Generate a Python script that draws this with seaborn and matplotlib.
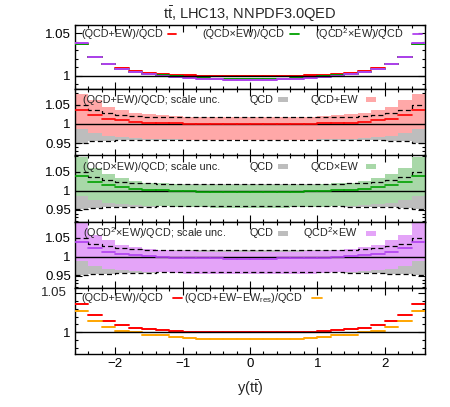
import numpy as np
import pandas as pd
import matplotlib
matplotlib.use('Agg')
import matplotlib.pyplot as plt
import matplotlib.transforms as mtransforms
import seaborn as sns
from matplotlib.patches import Rectangle
from matplotlib.ticker import MultipleLocator

# ---------------- data ----------------
edges = [-2.6, -2.4, -2.2, -2.0, -1.8, -1.6, -1.4, -1.2, -1.0, -0.8, -0.6, -0.4, -0.2, 0.0,
         0.2, 0.4, 0.6, 0.8, 1.0, 1.2, 1.4, 1.6, 1.8, 2.0, 2.2, 2.4, 2.6]

ratio_add = [1.037, 1.0222, 1.0139, 1.0094, 1.006, 1.0036, 1.0023, 1.0013, 1.0006, 1.0003, 1.0001, 1.0, 1.0,
             1.0, 1.0, 1.0001, 1.0003, 1.0006, 1.0013, 1.0023, 1.0036, 1.006, 1.0094, 1.0139, 1.0222, 1.037]
ratio_mult = [1.038, 1.0225, 1.0136, 1.0083, 1.0047, 1.0023, 1.0006, 0.9992, 0.9981, 0.9973, 0.9967, 0.9963, 0.9961,
              0.9961, 0.9963, 0.9967, 0.9973, 0.9981, 0.9992, 1.0006, 1.0023, 1.0047, 1.0083, 1.0136, 1.0225, 1.038]
ratio_qcd2 = [1.0388, 1.0226, 1.0134, 1.008, 1.0043, 1.0018, 0.9999, 0.9984, 0.9972, 0.9964, 0.9958, 0.9954, 0.9952,
              0.9952, 0.9954, 0.9958, 0.9964, 0.9972, 0.9984, 0.9999, 1.0018, 1.0043, 1.008, 1.0134, 1.0226, 1.0388]
ratio_nores = [1.0275, 1.014, 1.0072, 1.0015, 0.9998, 0.997, 0.9965, 0.9938, 0.9925, 0.9918, 0.9914, 0.9912, 0.9911,
               0.9911, 0.9912, 0.9914, 0.9918, 0.9925, 0.9938, 0.9965, 0.997, 0.9998, 1.0015, 1.0072, 1.014, 1.0275]

qcd_up = [1.049, 1.035, 1.029, 1.023, 1.021, 1.019, 1.018, 1.0175, 1.0175, 1.0175, 1.0175, 1.0175, 1.0175,
          1.0175, 1.0175, 1.0175, 1.0175, 1.0175, 1.0175, 1.018, 1.019, 1.021, 1.023, 1.029, 1.035, 1.049]
qcd_dn = [0.951, 0.955, 0.956, 0.957, 0.958, 0.958, 0.959, 0.959, 0.959, 0.959, 0.959, 0.959, 0.959,
          0.959, 0.959, 0.959, 0.959, 0.959, 0.959, 0.959, 0.958, 0.958, 0.957, 0.956, 0.955, 0.951]

add_up = [1.078, 1.062, 1.044, 1.036, 1.029, 1.025, 1.022, 1.020, 1.019, 1.018, 1.0178, 1.0176, 1.0175,
          1.0175, 1.0176, 1.0178, 1.018, 1.019, 1.020, 1.022, 1.025, 1.029, 1.036, 1.044, 1.062, 1.078]
add_dn = [0.986, 0.976, 0.969, 0.966, 0.964, 0.962, 0.961, 0.960, 0.9595, 0.959, 0.959, 0.959, 0.959,
          0.959, 0.959, 0.959, 0.959, 0.9595, 0.960, 0.961, 0.962, 0.964, 0.966, 0.969, 0.976, 0.986]
mult_up = [1.088, 1.059, 1.044, 1.032, 1.026, 1.021, 1.019, 1.017, 1.016, 1.015, 1.0142, 1.0138, 1.0136,
           1.0136, 1.0138, 1.0142, 1.015, 1.016, 1.017, 1.019, 1.021, 1.026, 1.032, 1.044, 1.059, 1.088]
mult_dn = [0.987, 0.976, 0.969, 0.965, 0.962, 0.960, 0.9595, 0.958, 0.957, 0.956, 0.9555, 0.955, 0.955,
           0.955, 0.955, 0.9555, 0.956, 0.957, 0.958, 0.9595, 0.960, 0.962, 0.965, 0.969, 0.976, 0.987]
qcd2_up = [1.089, 1.059, 1.044, 1.031, 1.0255, 1.020, 1.0175, 1.016, 1.0145, 1.014, 1.0135, 1.013, 1.013,
           1.013, 1.013, 1.0135, 1.014, 1.0145, 1.016, 1.0175, 1.020, 1.0255, 1.031, 1.044, 1.059, 1.089]
qcd2_dn = [0.988, 0.977, 0.969, 0.9655, 0.962, 0.960, 0.959, 0.957, 0.956, 0.955, 0.9545, 0.954, 0.954,
           0.954, 0.954, 0.9545, 0.955, 0.956, 0.957, 0.959, 0.960, 0.962, 0.9655, 0.969, 0.977, 0.988]

# ---------------- style ----------------
sns.set_theme(style='ticks')
plt.rcParams['font.family'] = ['Liberation Sans', 'DejaVu Sans']
plt.rcParams['mathtext.fontset'] = 'custom'
plt.rcParams['mathtext.rm'] = 'Liberation Sans'
plt.rcParams['mathtext.it'] = 'Liberation Sans:italic'
plt.rcParams['mathtext.default'] = 'regular'

RED = '#ff0000'
GREEN = '#00a000'
PURPLE = '#b040f0'
ORANGE = '#ffa500'
GRAY = '#bdbdbd'
PINK = '#ffa8a8'
LGREEN = '#a8d8a8'
LPURPLE = '#e4a4f8'

W, H = 450, 407
fig = plt.figure(figsize=(W / 100, H / 100), dpi=100)

def add_axes(top, bottom):
    return fig.add_axes([75 / W, 1 - bottom / H, 350 / W, (bottom - top) / H])

bounds = [(25, 88.5), (88.5, 155.5), (155.5, 222), (222, 288), (288, 354)]
axes = [add_axes(t, b) for t, b in bounds]

n = len(edges) - 1

def seg_frame(vals):
    xs, ys, bs = [], [], []
    for i in range(n):
        xs += [edges[i], edges[i + 1]]
        ys += [vals[i], vals[i]]
        bs += [i, i]
    return pd.DataFrame({'x': xs, 'y': ys, 'bin': bs})

def segments(ax, vals, color, lw=1.4, z=5):
    sns.lineplot(data=seg_frame(vals), x='x', y='y', units='bin', estimator=None,
                 color=color, lw=lw, ax=ax, legend=False, sort=False, zorder=z)

def step_line(ax, vals, color='black', lw=0.9, ls=(0, (4, 2.5)), z=4):
    df = pd.DataFrame({'x': edges, 'y': list(vals) + [vals[-1]]})
    sns.lineplot(data=df, x='x', y='y', estimator=None, color=color, lw=lw,
                 ax=ax, legend=False, drawstyle='steps-post', linestyle=ls, zorder=z)

def band(ax, up, dn, color, z):
    ax.fill_between(edges, list(up) + [up[-1]], list(dn) + [dn[-1]], step='post',
                    color=color, lw=0, zorder=z)

TICKFS = 9.5

def style_axis(ax, ylim, majors, labels, minor, showx=False):
    ax.set_xlabel('')
    ax.set_ylabel('')
    ax.axhline(1.0, color='black', lw=1.0, zorder=6)
    ax.set_xlim(-2.6, 2.6)
    ax.set_xticks([-2, -1, 0, 1, 2])
    if showx:
        ax.set_xticklabels(['\u22122', '\u22121', '0', '1', '2'])
    else:
        ax.set_xticklabels([])
    ax.xaxis.set_minor_locator(MultipleLocator(0.2))
    ax.set_yticks(majors)
    ax.set_yticklabels(labels)
    ax.yaxis.set_minor_locator(MultipleLocator(minor))
    ax.set_ylim(*ylim)
    ax.tick_params(which='both', direction='in', top=True, right=True, width=0.8, colors='black')
    ax.tick_params(which='major', length=5, labelsize=TICKFS, pad=3)
    ax.tick_params(which='minor', length=2.5)
    for s in ax.spines.values():
        s.set_linewidth(1.0)
        s.set_color('black')

FS = 7.8

def leg_text(ax, x, y, s, ha='right'):
    ax.text(x, y, s, transform=ax.transAxes, ha=ha, va='center', fontsize=FS, zorder=10)

def leg_line(ax, x0, x1, y, color):
    ax.plot([x0, x1], [y, y], transform=ax.transAxes, color=color, lw=1.3, zorder=10)

def leg_box(ax, x0, x1, y, color):
    h = 0.075
    ax.add_patch(Rectangle((x0, y - h / 2), x1 - x0, h, transform=ax.transAxes,
                           color=color, lw=0, zorder=10))

def fx(px):
    return (px - 75) / 350

# ---- panel 1 ----
ax = axes[0]
segments(ax, ratio_add, RED)
segments(ax, ratio_mult, GREEN)
segments(ax, ratio_qcd2, PURPLE)
style_axis(ax, (0.985, 1.06), [1.0, 1.05], ['1', '1.05'], 0.01)
yl = 0.86
leg_text(ax, fx(163), yl, '(QCD+EW)/QCD')
leg_line(ax, fx(168), fx(176), yl, RED)
leg_text(ax, fx(284), yl, '(QCD\u00d7EW)/QCD')
leg_line(ax, fx(290), fx(299), yl, GREEN)
leg_text(ax, fx(404), yl, '(QCD$^2$\u00d7EW)/QCD')
leg_line(ax, fx(413), fx(422), yl, PURPLE)
ax.set_title('$\\mathrm{t\\bar{t}}$, LHC13, NNPDF3.0QED', fontsize=10.5, pad=4)

# ---- panels 2-4 ----
band_specs = [
    (axes[1], add_up, add_dn, PINK, ratio_add, RED, '(QCD+EW)/QCD; scale unc.', 'QCD+EW'),
    (axes[2], mult_up, mult_dn, LGREEN, ratio_mult, GREEN, '(QCD\u00d7EW)/QCD; scale unc.', 'QCD\u00d7EW'),
    (axes[3], qcd2_up, qcd2_dn, LPURPLE, ratio_qcd2, PURPLE, '(QCD$^2$\u00d7EW)/QCD; scale unc.', 'QCD$^2$\u00d7EW'),
]
for ax, up, dn, bc, cen, lc, title, lab in band_specs:
    band(ax, qcd_up, qcd_dn, GRAY, 1)
    band(ax, up, dn, bc, 2)
    step_line(ax, qcd_up)
    step_line(ax, qcd_dn)
    segments(ax, cen, lc, lw=1.2, z=7)
    style_axis(ax, (0.918, 1.092), [0.95, 1.0, 1.05], ['0.95', '1', '1.05'], 0.01)
    yl = 0.83
    leg_text(ax, fx(83), yl, title, ha='left')
    leg_text(ax, fx(273), yl, 'QCD')
    leg_box(ax, fx(278), fx(288), yl, GRAY)
    leg_text(ax, fx(358), yl, lab)
    leg_box(ax, fx(366), fx(376), yl, bc)

# ---- panel 5 ----
ax = axes[4]
segments(ax, ratio_add, RED)
segments(ax, ratio_nores, ORANGE)
style_axis(ax, (0.972, 1.057), [1.0, 1.05], ['1', ''], 0.01, showx=True)
# explicit label for the upper tick of the bottom panel
ylab_tr = mtransforms.blended_transform_factory(ax.transAxes, ax.transData)
ax.text(-0.0236, 1.05, '1.05', transform=ylab_tr, ha='right', va='center',
        fontsize=TICKFS, clip_on=False, zorder=20)
yl = 0.85
leg_text(ax, fx(163), yl, '(QCD+EW)/QCD')
leg_line(ax, fx(173), fx(182), yl, RED)
leg_text(ax, fx(303), yl, '(QCD+EW\u2212EW$_{\\mathrm{res}}$)/QCD')
leg_line(ax, fx(312), fx(322), yl, ORANGE)
ax.set_xlabel('y($\\mathrm{t\\bar{t}}$)', fontsize=10.5, labelpad=6)

fig.savefig('out.png', dpi=100)
